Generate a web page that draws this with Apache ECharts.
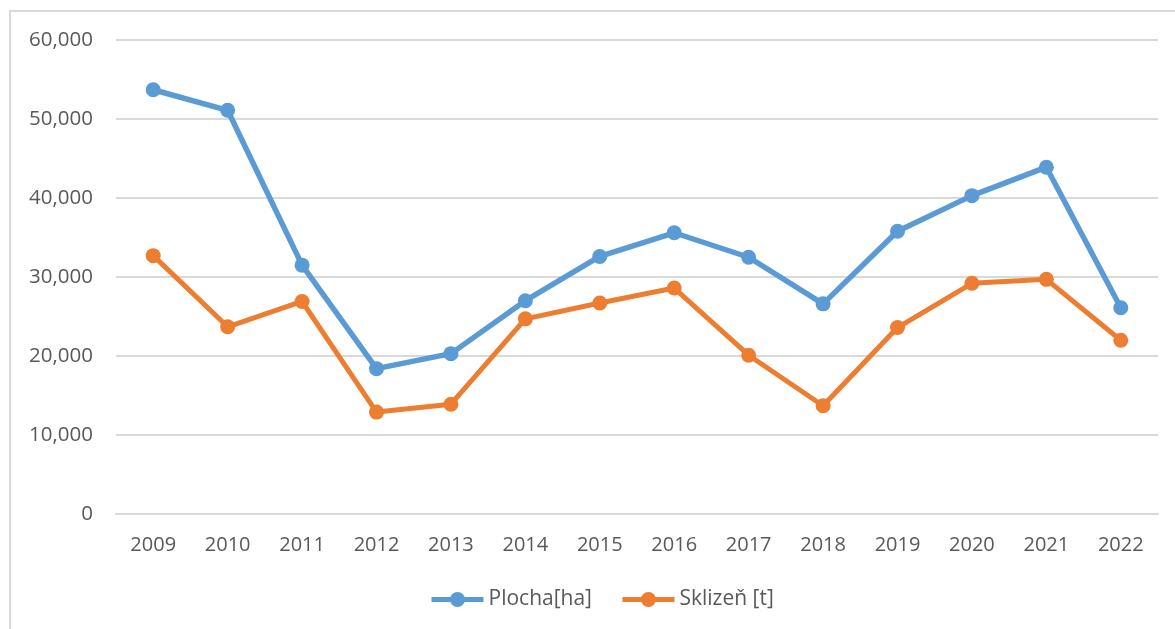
<!DOCTYPE html>
<html>
<head>
<meta charset="utf-8">
<script src="https://cdn.jsdelivr.net/npm/echarts@6/dist/echarts.min.js"></script>
<style>
html,body{margin:0;padding:0;background:#fff;}
#chart{width:1175px;height:629px;}
</style>
</head>
<body>
<div id="chart"></div>
<script>
const years = ['2009','2010','2011','2012','2013','2014','2015','2016','2017','2018','2019','2020','2021','2022'];
const plocha = [53700, 51100, 31500, 18400, 20300, 27000, 32600, 35600, 32500, 26600, 35800, 40300, 43900, 26100];
const sklizen = [32700, 23700, 26900, 12900, 13900, 24700, 26700, 28600, 20100, 13700, 23600, 29200, 29700, 22000];
const seriesNames = ['Plocha[ha]', 'Sklizeň [t]'];
const colors = ['#5B9BD5', '#ED7D31'];

const chart = echarts.init(document.getElementById('chart'), null, {renderer: 'canvas'});
const font = '"Open Sans", sans-serif';
chart.setOption({
  animation: false,
  backgroundColor: '#ffffff',
  graphic: [{
    type: 'rect',
    shape: {x: 10, y: 11, width: 1200, height: 700},
    style: {fill: 'none', stroke: '#d9d9d9', lineWidth: 2},
    silent: true
  }],
  grid: {left: 116, right: 17, top: 40, bottom: 115, containLabel: false},
  legend: {
    data: seriesNames,
    bottom: 14,
    left: 424,
    itemWidth: 52,
    itemHeight: 19,
    itemGap: 28,
    lineStyle: {width: 5},
    textStyle: {fontFamily: font, fontSize: 21, color: '#595959'}
  },
  xAxis: {
    type: 'category',
    data: years,
    boundaryGap: true,
    axisLine: {show: true, lineStyle: {color: '#d9d9d9', width: 2}},
    axisTick: {show: false},
    axisLabel: {fontFamily: font, fontSize: 20, color: '#595959', margin: 21}
  },
  yAxis: {
    type: 'value',
    min: 0,
    max: 60000,
    interval: 10000,
    axisLine: {show: false},
    axisTick: {show: false},
    splitLine: {lineStyle: {color: '#d9d9d9', width: 2}},
    axisLabel: {
      fontFamily: font, fontSize: 20.5, color: '#595959', margin: 23,
      formatter: v => v.toLocaleString('en-US')
    }
  },
  series: [
    {
      name: seriesNames[0], type: 'line', data: plocha,
      symbol: 'circle', symbolSize: 15,
      lineStyle: {color: colors[0], width: 5.5},
      itemStyle: {color: colors[0]}
    },
    {
      name: seriesNames[1], type: 'line', data: sklizen,
      symbol: 'circle', symbolSize: 15,
      lineStyle: {color: colors[1], width: 5},
      itemStyle: {color: colors[1]}
    }
  ]
});
</script>
</body>
</html>
